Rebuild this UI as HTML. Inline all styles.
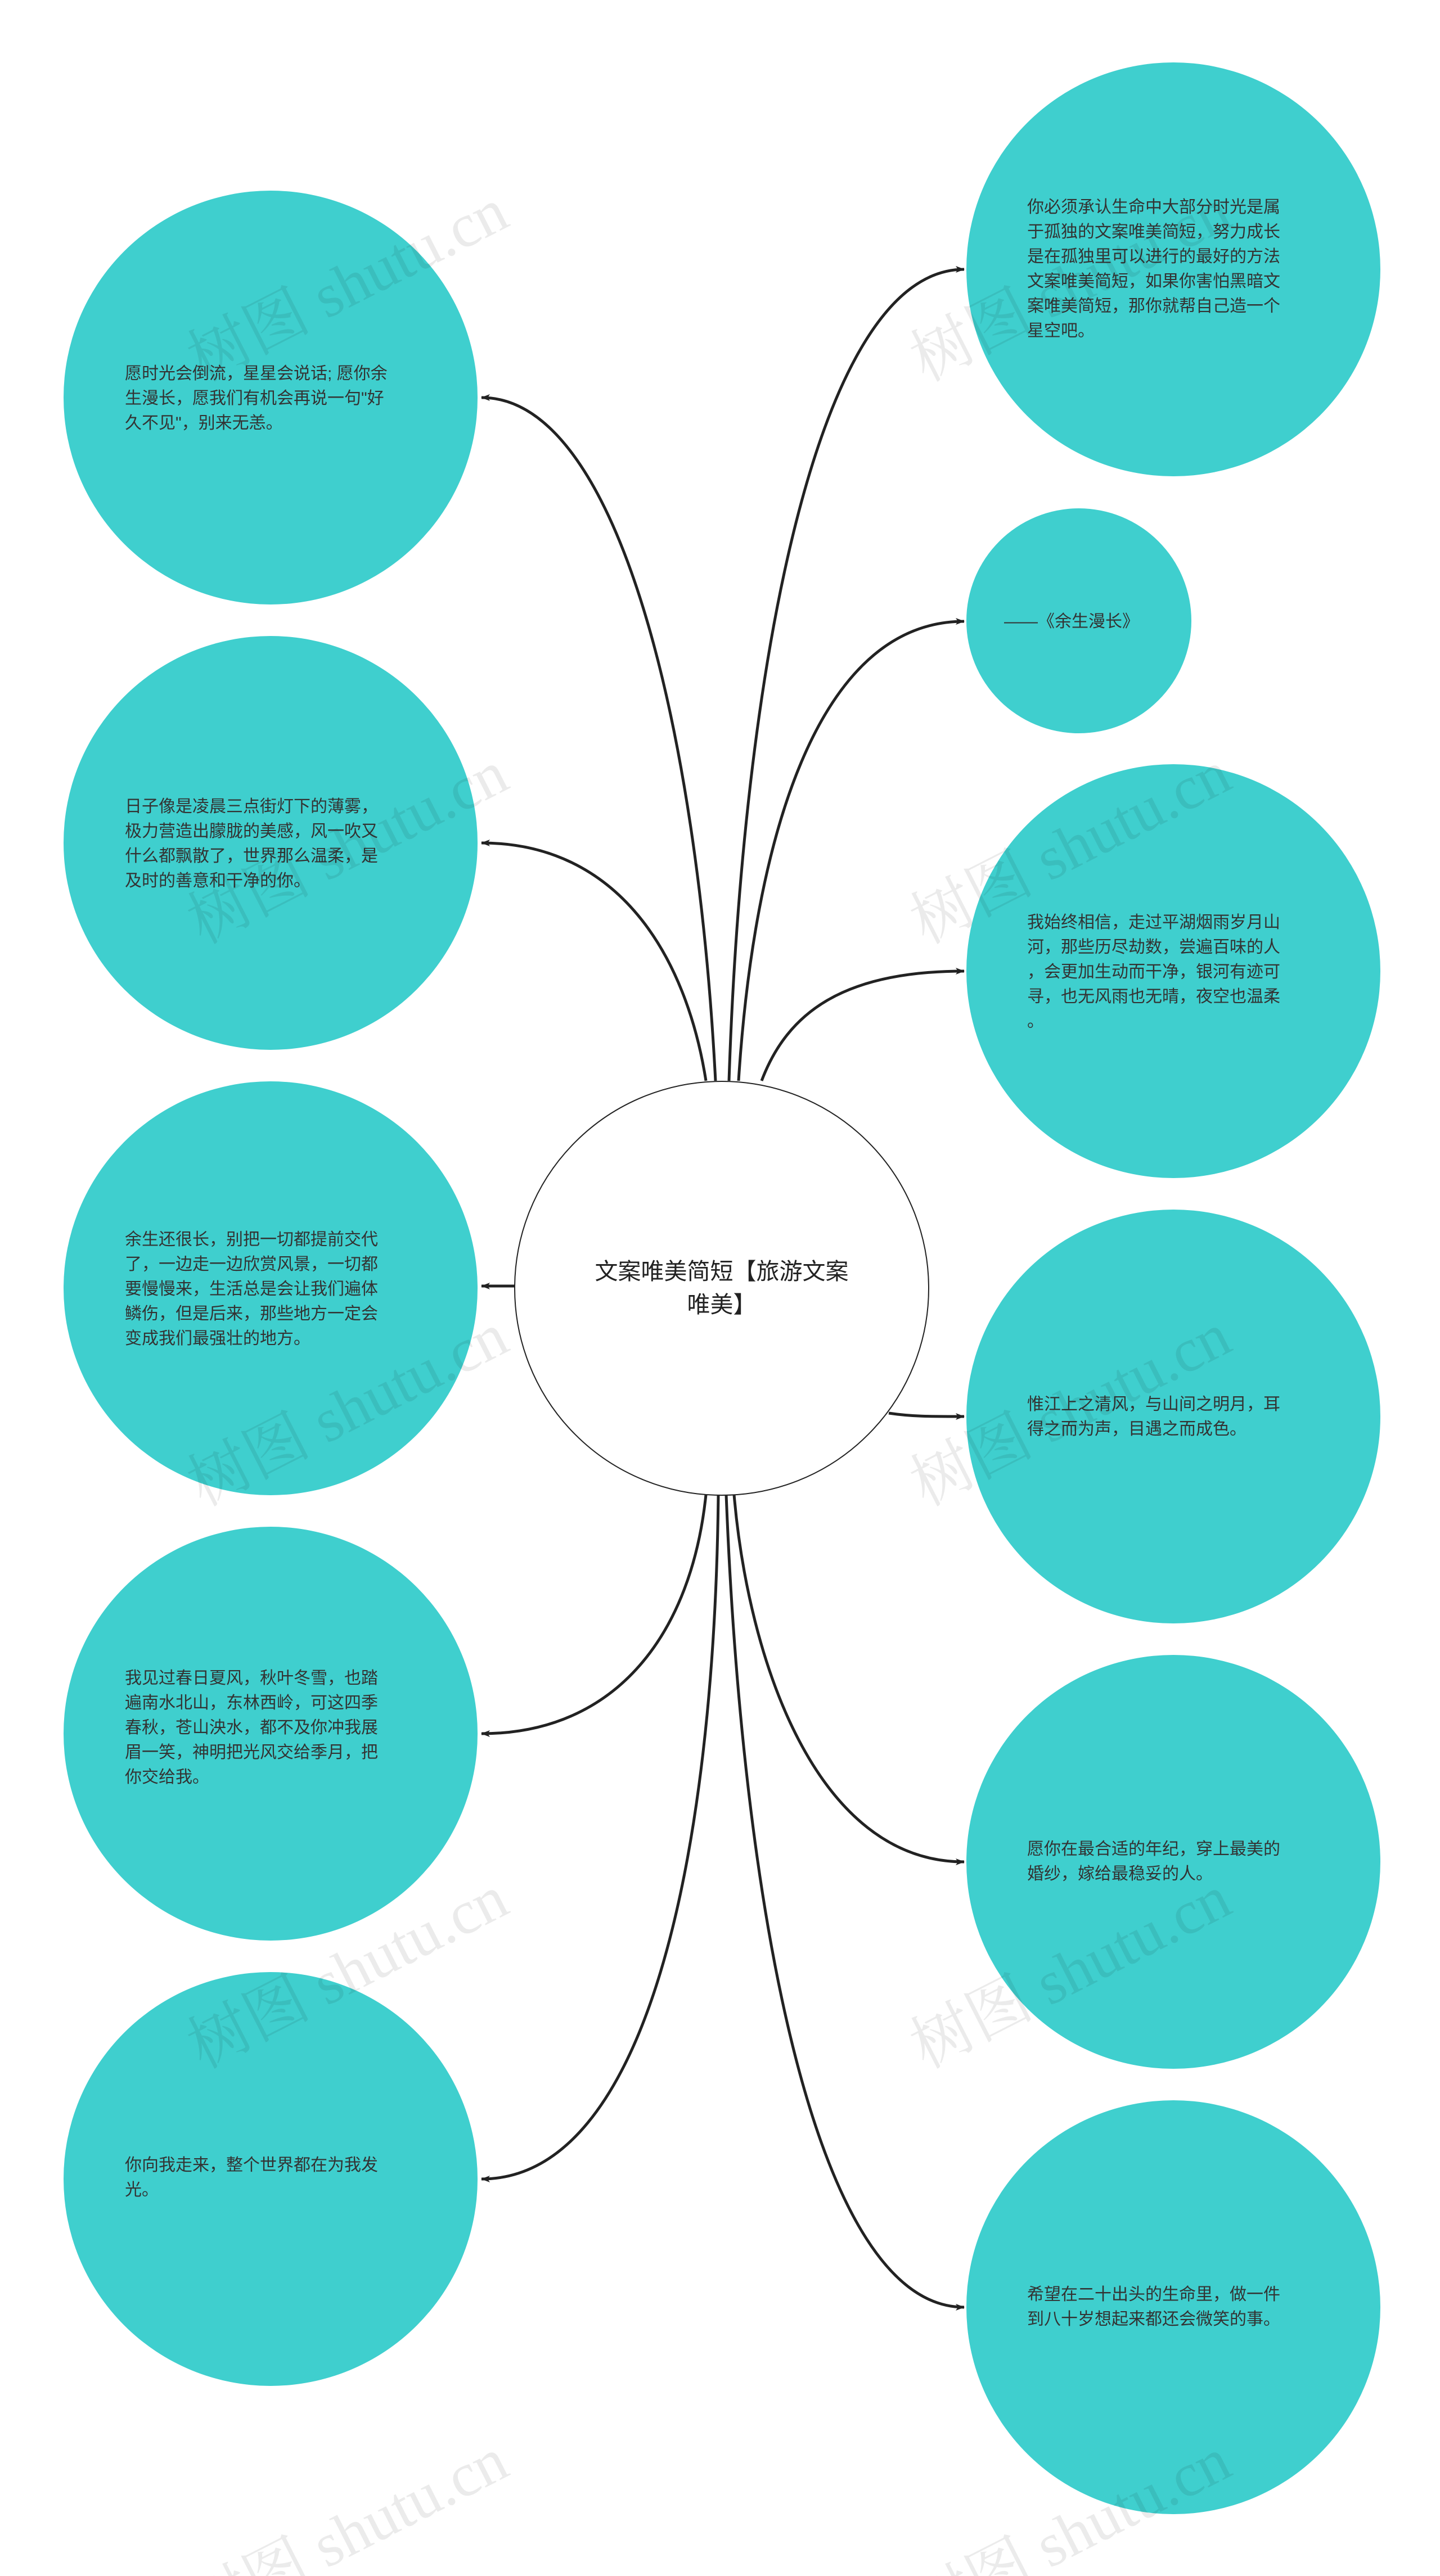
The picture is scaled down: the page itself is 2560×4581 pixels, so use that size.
<!DOCTYPE html>
<html><head><meta charset="utf-8"><style>
html,body{margin:0;padding:0;background:#fff;}
svg{display:block;}
.t{font-family:"Liberation Sans","Noto Sans CJK SC",sans-serif;font-size:30px;fill:#333;}
.w{font-family:"Liberation Serif","Noto Serif CJK SC",serif;font-size:110px;fill:#000;fill-opacity:0.08;}
</style></head><body>
<svg width="2560" height="4581" viewBox="0 0 2560 4581" xmlns="http://www.w3.org/2000/svg">
<defs><marker id="a" markerWidth="16" markerHeight="16" refX="15" refY="8" orient="auto" markerUnits="userSpaceOnUse"><path d="M0,2 L16,8 L0,14 L4,8 Z" fill="#222"/></marker></defs>
<g fill="#3fcfce">
<circle cx="481" cy="707" r="368"/>
<circle cx="481" cy="1499" r="368"/>
<circle cx="481" cy="2291" r="368"/>
<circle cx="481" cy="3083" r="368"/>
<circle cx="481" cy="3875" r="368"/>
<circle cx="2086" cy="479" r="368"/>
<circle cx="1918" cy="1104" r="200"/>
<circle cx="2086" cy="1727" r="368"/>
<circle cx="2086" cy="2519" r="368"/>
<circle cx="2086" cy="3311" r="368"/>
<circle cx="2086" cy="4103" r="368"/>
</g>
<g fill="none" stroke="#222" stroke-width="5" marker-end="url(#a)">
<path d="M1272 1922 C1240 1300 1100 707 856 707"/>
<path d="M1255 1922 C1220 1700 1100 1499 856 1499"/>
<path d="M916 2287 L856 2287"/>
<path d="M1255 2658 C1230 2900 1100 3083 856 3083"/>
<path d="M1277 2658 C1270 3300 1150 3875 856 3875"/>
<path d="M1296 1922 C1320 1200 1450 479 1714 479"/>
<path d="M1313 1922 C1340 1500 1450 1105 1714 1105"/>
<path d="M1354 1922 C1400 1800 1500 1727 1714 1727"/>
<path d="M1580 2513 C1620 2519 1650 2519 1714 2519"/>
<path d="M1305 2658 C1330 2950 1450 3311 1714 3311"/>
<path d="M1291 2658 C1320 3400 1450 4103 1714 4103"/>
</g>
<circle cx="1283" cy="2291" r="368" fill="#fff" stroke="#222" stroke-width="2"/>
<text x="1283" y="2275" text-anchor="middle" style="font-family:'Liberation Sans','Noto Sans CJK SC',sans-serif;font-size:41px;fill:#222">文案唯美简短【旅游文案</text>
<text x="1283" y="2334" text-anchor="middle" style="font-family:'Liberation Sans','Noto Sans CJK SC',sans-serif;font-size:41px;fill:#222">唯美】</text>
<g class="t">
<text x="222" y="674">愿时光会倒流，星星会说话; 愿你余</text>
<text x="222" y="718">生漫长，愿我们有机会再说一句"好</text>
<text x="222" y="762">久不见"，别来无恙。</text>
<text x="222" y="1444">日子像是凌晨三点街灯下的薄雾，</text>
<text x="222" y="1488">极力营造出朦胧的美感，风一吹又</text>
<text x="222" y="1532">什么都飘散了，世界那么温柔，是</text>
<text x="222" y="1576">及时的善意和干净的你。</text>
<text x="222" y="2214">余生还很长，别把一切都提前交代</text>
<text x="222" y="2258">了，一边走一边欣赏风景，一切都</text>
<text x="222" y="2302">要慢慢来，生活总是会让我们遍体</text>
<text x="222" y="2346">鳞伤，但是后来，那些地方一定会</text>
<text x="222" y="2390">变成我们最强壮的地方。</text>
<text x="222" y="2994">我见过春日夏风，秋叶冬雪，也踏</text>
<text x="222" y="3038">遍南水北山，东林西岭，可这四季</text>
<text x="222" y="3082">春秋，苍山泱水，都不及你冲我展</text>
<text x="222" y="3126">眉一笑，神明把光风交给季月，把</text>
<text x="222" y="3170">你交给我。</text>
<text x="222" y="3860">你向我走来，整个世界都在为我发</text>
<text x="222" y="3904">光。</text>
<text x="1826" y="378">你必须承认生命中大部分时光是属</text>
<text x="1826" y="422">于孤独的文案唯美简短，努力成长</text>
<text x="1826" y="466">是在孤独里可以进行的最好的方法</text>
<text x="1826" y="510">文案唯美简短，如果你害怕黑暗文</text>
<text x="1826" y="554">案唯美简短，那你就帮自己造一个</text>
<text x="1826" y="598">星空吧。</text>
<text x="1785" y="1115">——《余生漫长》</text>
<text x="1826" y="1650">我始终相信，走过平湖烟雨岁月山</text>
<text x="1826" y="1694">河，那些历尽劫数，尝遍百味的人</text>
<text x="1826" y="1738">，会更加生动而干净，银河有迹可</text>
<text x="1826" y="1782">寻，也无风雨也无晴，夜空也温柔</text>
<text x="1826" y="1826">。</text>
<text x="1826" y="2507">惟江上之清风，与山间之明月，耳</text>
<text x="1826" y="2551">得之而为声，目遇之而成色。</text>
<text x="1826" y="3298">愿你在最合适的年纪，穿上最美的</text>
<text x="1826" y="3342">婚纱，嫁给最稳妥的人。</text>
<text x="1826" y="4090">希望在二十出头的生命里，做一件</text>
<text x="1826" y="4134">到八十岁想起来都还会微笑的事。</text>
</g>
<g class="w">
<text transform="translate(360,680) rotate(-27)">树图 shutu.cn</text>
<text transform="translate(360,1680) rotate(-27)">树图 shutu.cn</text>
<text transform="translate(360,2680) rotate(-27)">树图 shutu.cn</text>
<text transform="translate(360,3680) rotate(-27)">树图 shutu.cn</text>
<text transform="translate(360,4680) rotate(-27)">树图 shutu.cn</text>
<text transform="translate(1645,680) rotate(-27)">树图 shutu.cn</text>
<text transform="translate(1645,1680) rotate(-27)">树图 shutu.cn</text>
<text transform="translate(1645,2680) rotate(-27)">树图 shutu.cn</text>
<text transform="translate(1645,3680) rotate(-27)">树图 shutu.cn</text>
<text transform="translate(1645,4680) rotate(-27)">树图 shutu.cn</text>
</g>
</svg>
</body></html>
